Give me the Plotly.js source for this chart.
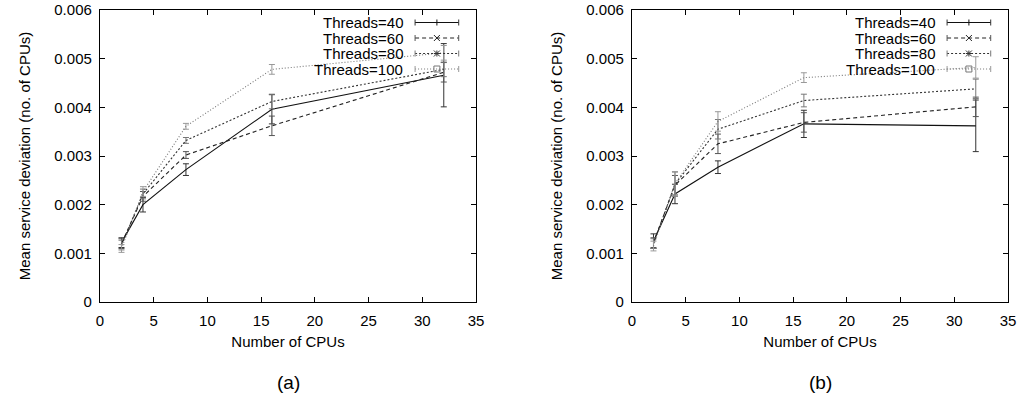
<!DOCTYPE html>
<html><head><meta charset="utf-8">
<script src="https://cdn.plot.ly/plotly-3.0.1.min.js"></script>
<style>body{margin:0;background:#fff}#chart{width:1020px;height:395px}</style>
</head><body><div id="chart"></div>
<script>
// Data
const cpus = [2, 4, 8, 16, 32];
const seriesNames = ["Threads=40", "Threads=60", "Threads=80", "Threads=100"];

// Panel (a)
const a_t40 = [0.00122, 0.00200, 0.00272, 0.00396, 0.00466];
const a_t40_err = [0.00010, 0.00015, 0.00012, 0.00030, 0.00065];
const a_t60 = [0.00120, 0.00217, 0.00302, 0.00362, 0.00472];
const a_t60_err = [0.00010, 0.00010, 0.00007, 0.00020, 0.00020];
const a_t80 = [0.00117, 0.00222, 0.00332, 0.00412, 0.00478];
const a_t80_err = [0.00010, 0.00010, 0.00006, 0.00015, 0.00015];
const a_t100 = [0.00110, 0.00227, 0.00361, 0.00478, 0.00512];
const a_t100_err = [0.00008, 0.00010, 0.00006, 0.00010, 0.00015];

// Panel (b)
const b_t40 = [0.00125, 0.00222, 0.00277, 0.00366, 0.00362];
const b_t40_err = [0.00015, 0.00020, 0.00013, 0.00028, 0.00053];
const b_t60 = [0.00122, 0.00240, 0.00325, 0.00369, 0.00401];
const b_t60_err = [0.00010, 0.00020, 0.00020, 0.00020, 0.00020];
const b_t80 = [0.00120, 0.00242, 0.00355, 0.00414, 0.00438];
const b_t80_err = [0.00010, 0.00025, 0.00020, 0.00013, 0.00020];
const b_t100 = [0.00115, 0.00243, 0.00371, 0.00461, 0.00482];
const b_t100_err = [0.00010, 0.00025, 0.00020, 0.00010, 0.00022];

const xTicks = [0, 5, 10, 15, 20, 25, 30, 35];
const yTicks = [0, 0.001, 0.002, 0.003, 0.004, 0.005, 0.006];
const yTickText = ["0", "0.001", "0.002", "0.003", "0.004", "0.005", "0.006"];
const panelLabels = ["(a)", "(b)"];
const xTitle = "Number of CPUs";
const yTitle = "Mean service deviation (no. of CPUs)";

// Styles
const styles = [
  {color: "#111", dash: "solid", symbol: "cross-thin-open", ecol: "#333"},
  {color: "#222", dash: "4px,3px", symbol: "x-thin-open", ecol: "#555"},
  {color: "#333", dash: "2px,2px", symbol: "asterisk-open", ecol: "#777"},
  {color: "#777", dash: "1px,2px", symbol: "square-open", ecol: "#999"}
];

const panelA = [[a_t40, a_t40_err], [a_t60, a_t60_err], [a_t80, a_t80_err], [a_t100, a_t100_err]];
const panelB = [[b_t40, b_t40_err], [b_t60, b_t60_err], [b_t80, b_t80_err], [b_t100, b_t100_err]];

const FONT = "Liberation Sans, Arial, Helvetica, sans-serif";
const traces = [];
[panelA, panelB].forEach((panel, pi) => {
  panel.forEach(([vals, errs], si) => {
    const s = styles[si];
    traces.push({
      x: cpus, y: vals, name: seriesNames[si], type: "scatter", mode: "lines+markers",
      xaxis: pi === 0 ? "x" : "x2", yaxis: pi === 0 ? "y" : "y2",
      showlegend: false,
      line: {color: s.color, width: 1.1, dash: s.dash},
      marker: {symbol: s.symbol, size: 7, color: "rgba(0,0,0,0)", line: {color: s.color, width: 1}},
      error_y: {type: "data", array: errs, visible: true, color: s.ecol, thickness: 1, width: 3}
    });
  });
});

function axisX(domain, anchor) {
  return {
    domain: domain, anchor: anchor, range: [0, 35], tickvals: xTicks,
    ticks: "inside", ticklen: 5, tickcolor: "#000", mirror: "ticks",
    showline: true, linecolor: "#000", linewidth: 1, showgrid: false, zeroline: false,
    ticklabelstandoff: 5,
    tickfont: {family: FONT, size: 15, color: "#000"},
    title: {text: xTitle, font: {family: FONT, size: 15, color: "#000"}, standoff: 8}
  };
}
function axisY(anchor) {
  return {
    domain: [0, 1], anchor: anchor, range: [0, 0.006], tickvals: yTicks,
    ticktext: yTickText.map(t => t + "\u00a0"),
    ticks: "inside", ticklen: 5, tickcolor: "#000", mirror: "ticks",
    showline: true, linecolor: "#000", linewidth: 1, showgrid: false, zeroline: false,
    tickfont: {family: FONT, size: 15, color: "#000"},
    title: {text: yTitle, font: {family: FONT, size: 15, color: "#000"}, standoff: 20}
  };
}

const layout = {
  width: 1020, height: 395,
  margin: {l: 0, r: 0, t: 10, b: 93},
  paper_bgcolor: "#fff", plot_bgcolor: "#fff",
  showlegend: false,
  xaxis: axisX([100/1020, 476/1020], "y"),
  yaxis: axisY("x"),
  xaxis2: axisX([632/1020, 1008/1020], "y2"),
  yaxis2: axisY("x2"),
  annotations: [], shapes: []
};

// Panel labels
panelLabels.forEach((lab, pi) => {
  layout.annotations.push({
    text: lab, xref: (pi === 0 ? "x" : "x2") + " domain", yref: "paper",
    x: 0.5, y: -0.274, xanchor: "center", yanchor: "middle", showarrow: false,
    font: {family: FONT, size: 19, color: "#000"}
  });
});

// gnuplot-style legend: text right-aligned, sample on the right
const rowPx = [22.5, 38, 53.5, 69];
const W = 376, H = 292;
[0, 1].forEach(pi => {
  const xr = (pi === 0 ? "x" : "x2") + " domain";
  const yr = (pi === 0 ? "y" : "y2") + " domain";
  seriesNames.forEach((nm, si) => {
    const yc = (302 - rowPx[si]) / H;
    const s = styles[si];
    layout.annotations.push({
      text: nm, xref: xr, yref: yr, x: 0.812, y: yc, xanchor: "right", yanchor: "middle",
      showarrow: false, font: {family: FONT, size: 15, color: "#000"}
    });
    const x0 = 0.838, x1 = 0.954, xm = (x0 + x1) / 2;
    layout.shapes.push({type: "line", xref: xr, yref: yr, x0: x0, x1: x1, y0: yc, y1: yc,
      line: {color: s.color, width: 1, dash: s.dash === "solid" ? "solid" : s.dash}});
    [x0, x1].forEach(xc => layout.shapes.push({type: "line", xref: xr, yref: yr, x0: xc, x1: xc,
      y0: yc - 3 / H, y1: yc + 3 / H, line: {color: s.ecol, width: 1}}));
    const dx = 3 / W, dy = 3 / H;
    const segs = [];
    if (si === 0) segs.push([[-1, 0], [1, 0]], [[0, -1], [0, 1]]);
    if (si === 1 || si === 2) segs.push([[-1, -1], [1, 1]], [[-1, 1], [1, -1]]);
    if (si === 2) segs.push([[-1, 0], [1, 0]], [[0, -1], [0, 1]]);
    segs.forEach(([p, q]) => layout.shapes.push({type: "line", xref: xr, yref: yr,
      x0: xm + p[0] * dx, y0: yc + p[1] * dy, x1: xm + q[0] * dx, y1: yc + q[1] * dy,
      line: {color: s.color, width: 1}}));
    if (si === 3) layout.shapes.push({type: "rect", xref: xr, yref: yr,
      x0: xm - dx, x1: xm + dx, y0: yc - dy, y1: yc + dy, line: {color: s.color, width: 1}});
  });
});

Plotly.newPlot("chart", traces, layout, {staticPlot: true, displayModeBar: false});
</script></body></html>
